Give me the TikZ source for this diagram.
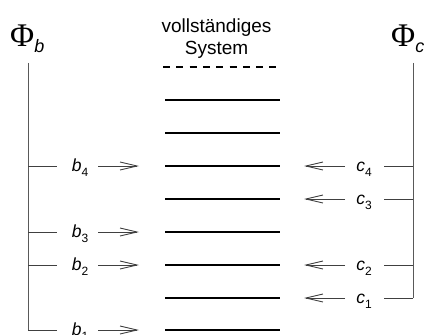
\documentclass[tikz,border=0pt]{standalone}
\usepackage{fontspec}
\setmainfont{Liberation Sans}
\newfontfamily\phifont{Liberation Serif}
\usetikzlibrary{arrows.meta}
\tikzset{
  level/.style={line width=1.3pt,black},
  dashlevel/.style={line width=1.1pt,black,dash pattern=on 7pt off 6.3pt},
  axis/.style={line width=1pt,black!65},
  branch/.style={line width=0.9pt,black!75},
  feed/.style={line width=0.9pt,black!75,-{Straight Barb[length=17pt,width=8pt,line width=0.9pt]}},
  lab/.style={anchor=base,inner sep=0pt,font=\fontsize{17.5}{19}\selectfont},
  big/.style={anchor=base west,inner sep=0pt},
}
\newcommand{\labsub}[2]{\textit{#1}\raisebox{-5pt}{\fontsize{12}{13}\selectfont #2}}
\begin{document}
\begin{tikzpicture}[x=1pt,y=-1pt]
\useasboundingbox[clip] (0,0) rectangle (427,334);
% titles
\node[big] (phib) at (10,47) {{\phifont\fontsize{33}{35}\selectfont \symbol{"03A6}}\raisebox{-6pt}{\fontsize{18}{20}\selectfont\itshape b}};
\node[big] (phic) at (391,47) {{\phifont\fontsize{33}{35}\selectfont \symbol{"03A6}}\raisebox{-6pt}{\fontsize{18}{20}\selectfont\itshape c}};
\node[anchor=base,align=center,inner sep=0pt,font=\fontsize{19}{22}\selectfont] (title) at (216.5,55) {vollständiges\\System};
% axes
\coordinate (Lt) at (28,63); \coordinate (Lb) at (28,330);
\coordinate (Rt) at (413,63); \coordinate (Rb) at (413,298);
\draw[axis] (Lt) -- (Lb);
\draw[axis] (Rt) -- (Rb);
% levels
\draw[dashlevel] (163,67) -- (281,67);
\foreach \y/\n in {100/a,133/b,166/c,199/d,232/e,265/f,298/g,330/h}{
  \coordinate (l\n) at (165,\y); \coordinate (r\n) at (280,\y);
  \draw[level] (l\n) -- (r\n);
}
% left branches
\foreach \y/\i in {166/4,232/3,265/2,330/1}{
  \coordinate (bs\i) at (28,\y); \coordinate (be\i) at (57,\y);
  \draw[branch] (bs\i) -- (be\i);
  \node[lab] (b\i) at (80,\y+5.5) {\labsub{b}{\i}};
  \coordinate (ba\i) at (98,\y); \coordinate (bt\i) at (139,\y);
  \draw[feed] (ba\i) -- (bt\i);
}
% right branches
\foreach \y/\i in {166/4,199/3,265/2,298/1}{
  \coordinate (cs\i) at (413,\y); \coordinate (ce\i) at (384,\y);
  \draw[branch] (cs\i) -- (ce\i);
  \node[lab] (c\i) at (364,\y+5.5) {\labsub{c}{\i}};
  \coordinate (ca\i) at (345,\y); \coordinate (ct\i) at (304,\y);
  \draw[feed] (ca\i) -- (ct\i);
}
\end{tikzpicture}
\end{document}
